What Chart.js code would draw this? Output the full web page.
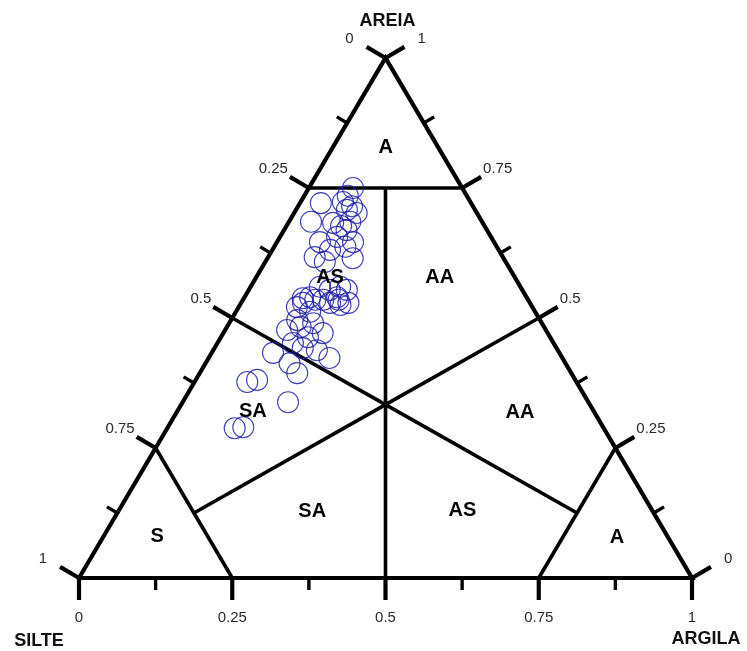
<!DOCTYPE html>
<html>
<head>
<meta charset="utf-8">
<script src="https://cdn.jsdelivr.net/npm/chart.js@4.4.1/dist/chart.umd.min.js"></script>
<style>
  html, body { margin: 0; padding: 0; background: #ffffff; }
  #wrap { width: 747px; height: 651px; }
</style>
</head>
<body>
<div id="wrap"><canvas id="chart" width="747" height="651"></canvas></div>
<script>
// Sample texture fractions (silte = 1 - areia - argila)
const areia = [
  0.750, 0.735, 0.715, 0.702, 0.723, 0.721, 0.685, 0.683, 0.708, 0.656,
  0.646, 0.637, 0.646, 0.617, 0.631, 0.615, 0.669, 0.677, 0.685, 0.560,
  0.554, 0.554, 0.540, 0.535, 0.535, 0.529, 0.521, 0.560, 0.538, 0.535,
  0.540, 0.512, 0.496, 0.477, 0.483, 0.490, 0.471, 0.463, 0.452, 0.442,
  0.438, 0.423, 0.433, 0.413, 0.394, 0.377, 0.381, 0.338, 0.288, 0.290,
  0.525, 0.608, 0.529, 0.529
];
const argila = [
  0.072, 0.071, 0.088, 0.102, 0.069, 0.034, 0.036, 0.073, 0.083, 0.093,
  0.124, 0.116, 0.070, 0.076, 0.094, 0.139, 0.102, 0.089, 0.100, 0.113,
  0.132, 0.160, 0.107, 0.131, 0.156, 0.175, 0.095, 0.146, 0.096, 0.118,
  0.151, 0.121, 0.108, 0.101, 0.120, 0.137, 0.162, 0.142, 0.123, 0.144,
  0.169, 0.197, 0.100, 0.137, 0.159, 0.086, 0.100, 0.172, 0.110, 0.123,
  0.164, 0.097, 0.101, 0.145
];

// Axis tick values (fractions) and their labels
const majorTicks = [0, 0.25, 0.5, 0.75, 1];
const majorTickLabels = ['0', '0.25', '0.5', '0.75', '1'];
const minorTicks = [0.125, 0.375, 0.625, 0.875];

// Corner titles
const titleAreia = 'AREIA';
const titleSilte = 'SILTE';
const titleArgila = 'ARGILA';

// Textural class names
const classNames = ['A', 'AS', 'AA', 'SA', 'AA', 'S', 'SA', 'AS', 'A'];

// Class boundaries as [areia, argila] segment endpoints
const c3 = 1 / 3;
const classBoundaries = [
  [[0.75, 0], [0.75, 0.25]],        // areia = 0.75
  [[0.75, 0.125], [0, 0.5]],        // silte = argila
  [[0.5, 0], [c3, c3]],             // areia = silte
  [[0.5, 0.5], [c3, c3]],           // areia = argila
  [[c3, c3], [0.125, 0.125]],       // towards the silte corner
  [[c3, c3], [0.125, 0.75]],        // towards the argila corner
  [[0.25, 0], [0, 0.25]],           // silte = 0.75
  [[0.25, 0.75], [0, 0.75]]         // argila = 0.75
];

// Ternary (areia, argila) -> plot plane
function tern(a, c) { return { x: c + a / 2, y: a }; }

// Class label anchors in the ternary plane [areia, argila]
const classAnchors = [
  [0.827, 0.087], [0.577, 0.121], [0.577, 0.300], [0.321, 0.123], [0.319, 0.560],
  [0.079, 0.088], [0.127, 0.317], [0.129, 0.561], [0.077, 0.839]
];

const samplePoints = areia.map((a, i) => tern(a, argila[i]));

const outline = [tern(0, 0), tern(1, 0), tern(0, 1), tern(0, 0)];

const datasets = [
  {
    type: 'scatter',
    data: samplePoints,
    pointStyle: 'circle',
    pointRadius: 10.5,
    pointHoverRadius: 10.5,
    borderWidth: 1.1,
    borderColor: 'rgba(32, 32, 170, 0.85)',
    backgroundColor: 'rgba(0,0,0,0)',
    clip: false,
    order: 0
  },
  {
    type: 'line',
    data: outline,
    borderColor: '#000',
    borderWidth: 4.2,
    pointRadius: 0,
    fill: false,
    tension: 0,
    borderJoinStyle: 'miter',
    clip: false,
    order: 2
  }
].concat(classBoundaries.map(seg => ({
  type: 'line',
  data: seg.map(p => tern(p[0], p[1])),
  borderColor: '#000',
  borderWidth: 3.6,
  pointRadius: 0,
  fill: false,
  tension: 0,
  clip: false,
  order: 1
})));

const FONT = '"Liberation Sans", Arial, Helvetica, sans-serif';

// Ticks, tick labels, corner titles and class names
const ternaryDecor = {
  id: 'ternaryDecor',
  afterDatasetsDraw(chart) {
    const { ctx, scales } = chart;
    const px = p => ({ x: scales.x.getPixelForValue(p.x), y: scales.y.getPixelForValue(p.y) });
    const vS = px(tern(0, 0)), vA = px(tern(1, 0)), vC = px(tern(0, 1));

    function normal(p0, p1) {
      const dx = p1.x - p0.x, dy = p1.y - p0.y, len = Math.hypot(dx, dy);
      return { x: dy / len, y: -dx / len };
    }
    // edges traversed silte -> areia -> argila -> silte; normal points outward
    const edges = [
      { side: 'left',   n: normal(vS, vA), at: v => tern(1 - v, 0) },   // silte fraction
      { side: 'right',  n: normal(vA, vC), at: v => tern(v, 1 - v) },   // areia fraction
      { side: 'bottom', n: normal(vC, vS), at: v => tern(0, v) }        // argila fraction
    ];

    ctx.save();
    ctx.strokeStyle = '#000';
    ctx.lineCap = 'butt';
    edges.forEach(e => {
      minorTicks.forEach(v => {
        const p = px(e.at(v));
        ctx.lineWidth = 3.4;
        ctx.beginPath();
        ctx.moveTo(p.x, p.y);
        ctx.lineTo(p.x + e.n.x * 12, p.y + e.n.y * 12);
        ctx.stroke();
      });
      majorTicks.forEach((v, i) => {
        const p = px(e.at(v));
        const end = { x: p.x + e.n.x * 22, y: p.y + e.n.y * 22 };
        ctx.lineWidth = 4.2;
        ctx.beginPath();
        ctx.moveTo(p.x, p.y);
        ctx.lineTo(end.x, end.y);
        ctx.stroke();

        const corner = (v === 0 || v === 1);
        const gap = corner ? 13 : 2;
        ctx.fillStyle = '#2a2a2a';
        ctx.font = '15px ' + FONT;
        ctx.textBaseline = 'middle';
        if (e.side === 'left') {
          ctx.textAlign = 'right';
          ctx.fillText(majorTickLabels[i], end.x - gap, end.y - 8);
        } else if (e.side === 'right') {
          ctx.textAlign = 'left';
          ctx.fillText(majorTickLabels[i], end.x + gap, end.y - 8);
        } else {
          ctx.textAlign = 'center';
          ctx.fillText(majorTickLabels[i], end.x, end.y + 18);
        }
      });
    });

    // corner titles
    ctx.fillStyle = '#111';
    ctx.font = 'bold 18px ' + FONT;
    ctx.textAlign = 'center';
    ctx.textBaseline = 'middle';
    ctx.fillText(titleAreia, vA.x + 2, vA.y - 37);
    ctx.fillText(titleSilte, vS.x - 40, vS.y + 63);
    ctx.fillText(titleArgila, vC.x + 14, vC.y + 61);

    // class names
    ctx.font = 'bold 20px ' + FONT;
    ctx.fillStyle = '#000';
    classNames.forEach((name, i) => {
      const p = px(tern(classAnchors[i][0], classAnchors[i][1]));
      ctx.fillText(name, p.x, p.y);
    });
    ctx.restore();
  }
};

new Chart(document.getElementById('chart'), {
  data: { datasets },
  options: {
    responsive: false,
    animation: false,
    devicePixelRatio: 1,
    layout: { padding: { left: 79, right: 55, top: 58, bottom: 73 } },
    plugins: { legend: { display: false }, tooltip: { enabled: false } },
    scales: {
      x: { type: 'linear', min: 0, max: 1, display: false },
      y: { type: 'linear', min: 0, max: 1, display: false }
    }
  },
  plugins: [ternaryDecor]
});
</script>
</body>
</html>
